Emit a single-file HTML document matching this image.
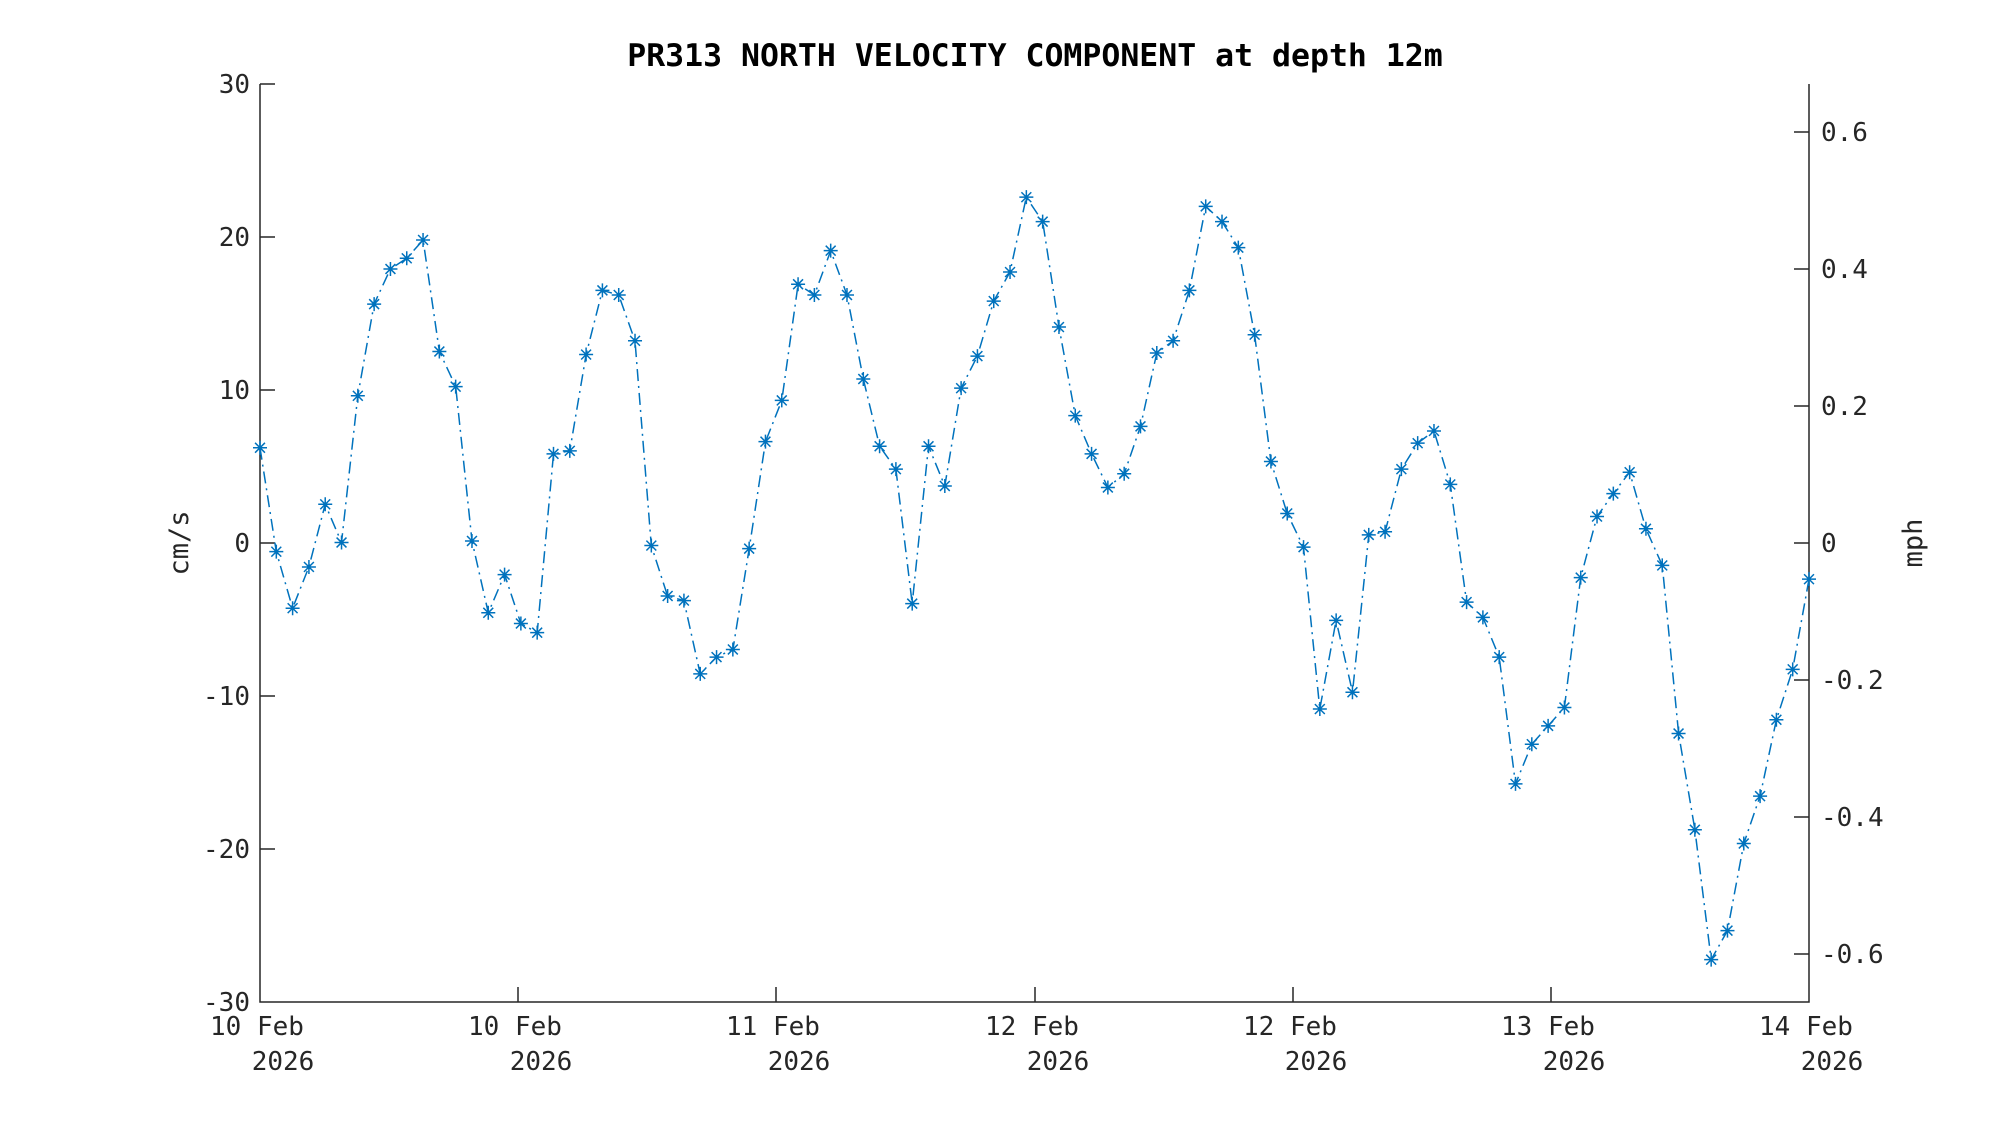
<!DOCTYPE html>
<html><head><meta charset="utf-8"><style>
html,body{margin:0;padding:0;background:#fff}
svg text{font-family:"DejaVu Sans Mono","Liberation Mono",monospace;fill:#262626}
</style></head><body>
<svg id="s" width="2000" height="1125" viewBox="0 0 2000 1125" xmlns="http://www.w3.org/2000/svg">
<rect width="2000" height="1125" fill="#fff"/>
<g stroke="#262626" stroke-width="1.5" fill="none">
<path d="M260,84 V1002 H1809 V84"/>
<path d="M260,84h15M260,237h15M260,390h15M260,543h15M260,696h15M260,849h15"/>
<path d="M518,1002v-15M776,1002v-15M1035,1002v-15M1293,1002v-15M1551,1002v-15"/>
<path d="M1809,132h-15M1809,269h-15M1809,406h-15M1809,543h-15M1809,680h-15M1809,817h-15M1809,954h-15"/>
</g>
<g font-size="26" text-anchor="end">
<text x="250" y="93">30</text><text x="250" y="246">20</text><text x="250" y="399">10</text>
<text x="250" y="552">0</text><text x="250" y="705">-10</text><text x="250" y="858">-20</text><text x="250" y="1011">-30</text>
</g>
<g font-size="26">
<text x="1821" y="141">0.6</text><text x="1821" y="278">0.4</text><text x="1821" y="415">0.2</text>
<text x="1821" y="552">0</text><text x="1821" y="689">-0.2</text><text x="1821" y="826">-0.4</text><text x="1821" y="963">-0.6</text>
</g>
<g font-size="26" text-anchor="middle">
<text x="257" y="1035">10 Feb</text><text x="283" y="1070">2026</text>
<text x="515" y="1035">10 Feb</text><text x="541" y="1070">2026</text>
<text x="773" y="1035">11 Feb</text><text x="799" y="1070">2026</text>
<text x="1032" y="1035">12 Feb</text><text x="1058" y="1070">2026</text>
<text x="1290" y="1035">12 Feb</text><text x="1316" y="1070">2026</text>
<text x="1548" y="1035">13 Feb</text><text x="1574" y="1070">2026</text>
<text x="1806" y="1035">14 Feb</text><text x="1832" y="1070">2026</text>
</g>
<text x="1035" y="66" font-size="31.5" font-weight="bold" text-anchor="middle" style="fill:#000">PR313 NORTH VELOCITY COMPONENT at depth 12m</text>
<text x="0" y="0" font-size="27" text-anchor="middle" transform="translate(188,543) rotate(-90)">cm/s</text>
<text x="0" y="0" font-size="27" text-anchor="middle" transform="translate(1922,543) rotate(-90)">mph</text>
<g id="d"></g>
</svg>
<script>
var v=[6.2,-0.6,-4.3,-1.6,2.5,0,9.6,15.6,17.9,18.6,19.8,12.5,10.2,0.1,-4.6,-2.1,-5.3,-5.9,5.8,6.0,12.3,16.5,16.2,13.2,-0.2,-3.5,-3.8,-8.6,-7.5,-7.0,-0.4,6.6,9.3,16.9,16.2,19.1,16.2,10.7,6.3,4.8,-4.0,6.3,3.7,10.1,12.2,15.8,17.7,22.6,21.0,14.1,8.3,5.8,3.6,4.5,7.6,12.4,13.2,16.5,22.0,21.0,19.3,13.6,5.3,1.9,-0.3,-10.9,-5.1,-9.8,0.5,0.7,4.8,6.5,7.3,3.8,-3.9,-4.9,-7.5,-15.8,-13.2,-12.0,-10.8,-2.3,1.7,3.2,4.6,0.9,-1.5,-12.5,-18.8,-27.3,-25.4,-19.7,-16.6,-11.6,-8.3,-2.4];
var pts=[],m='';
for(var i=0;i<v.length;i++){var x=260+i*1549/95,y=542.5-v[i]*15.28;pts.push(x.toFixed(1)+','+y.toFixed(1));
var r=7,a=r*0.707;
m+='M'+(x-r)+','+y+'h'+(2*r)+'M'+x+','+(y-r)+'v'+(2*r)+'M'+(x-a)+','+(y-a)+'l'+(2*a)+','+(2*a)+'M'+(x-a)+','+(y+a)+'l'+(2*a)+','+(-2*a);}
document.getElementById('d').innerHTML='<polyline points="'+pts.join(' ')+'" fill="none" stroke="#0072BD" stroke-width="1.5" stroke-dasharray="12,5,2,5"/><path d="'+m+'" stroke="#0072BD" stroke-width="1.5" fill="none"/>';
</script>
</body></html>
